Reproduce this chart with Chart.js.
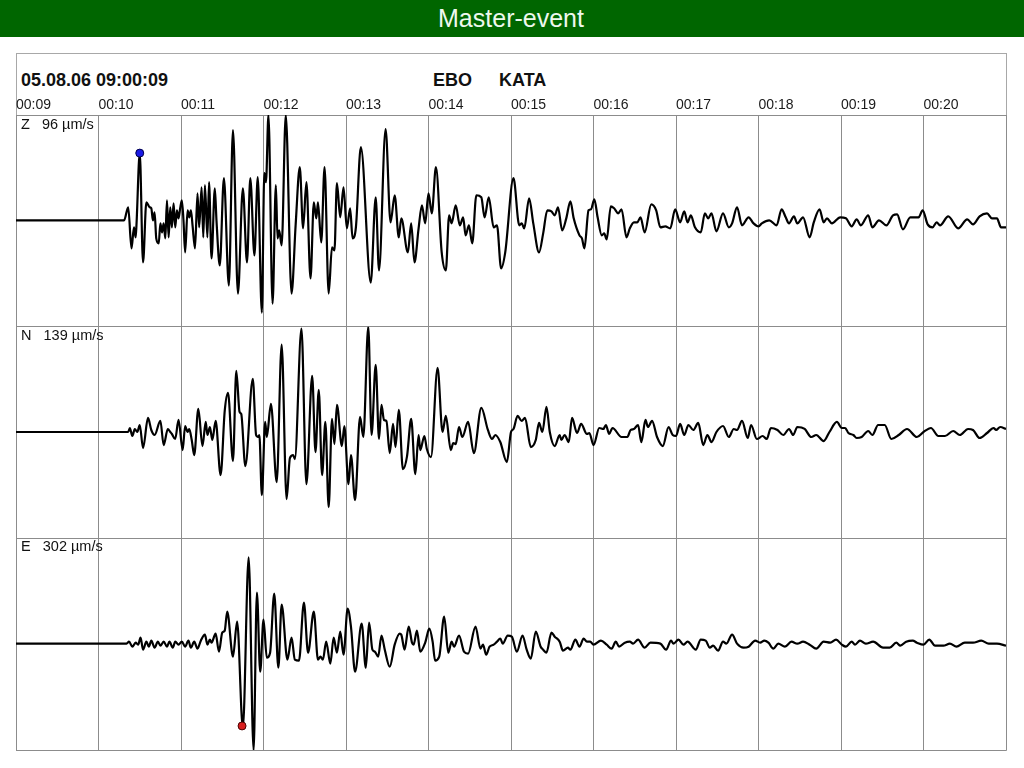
<!DOCTYPE html>
<html>
<head>
<meta charset="utf-8">
<script src="https://cdn.jsdelivr.net/npm/chart.js@4.4.1/dist/chart.umd.min.js"></script>
<style>
  html, body { margin: 0; padding: 0; background: #ffffff; }
  body { width: 1024px; height: 768px; position: relative; overflow: hidden; font-family: "Liberation Sans", Arial, sans-serif; }
  #bar { position: absolute; left: 0; top: 0; width: 1024px; height: 37px; background: rgb(0,102,0); }
  #bar span { position: absolute; left: 0; width: 1022px; top: 4px; text-align: center; color: #eef8ee; font-size: 25px; line-height: 29px; }
  #frame { position: absolute; left: 16px; top: 53px; width: 989px; height: 696px; border: 1px solid #a8a8a8; }
  .hdr { position: absolute; font-weight: bold; font-size: 18px; line-height: 20px; color: #111; }
  .chl { position: absolute; left: 21px; font-size: 14.5px; line-height: 16px; color: #111; white-space: pre; }
  #wrap { position: absolute; left: 15px; top: 84px; width: 992px; height: 667px; }
</style>
</head>
<body>
<div id="bar"><span>Master-event</span></div>
<div id="frame"></div>
<div class="hdr" style="left:21px; top:70px;">05.08.06 09:00:09</div>
<div class="hdr" style="left:433px; top:70px;">EBO</div>
<div class="hdr" style="left:499px; top:70px;">KATA</div>
<div id="wrap"><canvas id="c"></canvas></div>
<div class="chl" id="lZ" style="top:116px;"></div>
<div class="chl" id="lN" style="top:327px;"></div>
<div class="chl" id="lE" style="top:538px;"></div>
<script>
// time axis tick labels (seconds after 09:00:00)
const timeLabels = ['00:09','00:10','00:11','00:12','00:13','00:14','00:15','00:16','00:17','00:18','00:19','00:20'];
const channelNames = ['Z','N','E'];
const channelScales = ['96 µm/s','139 µm/s','302 µm/s'];

// Z component: time (s) and relative amplitude (% of channel full scale)
const zTime = [9.00,10.31,10.36,10.40,10.43,10.45,10.46,10.50,10.54,10.58,10.62,10.64,10.66,10.68,10.70,10.73,10.75,10.77,10.79,10.81,10.83,10.85,10.87,10.89,10.91,10.93,10.95,10.97,10.99,11.01,11.03,11.05,11.08,11.10,11.12,11.14,11.17,11.20,11.22,11.25,11.27,11.29,11.32,11.34,11.37,11.41,11.43,11.47,11.52,11.58,11.63,11.69,11.75,11.80,11.84,11.89,11.93,11.98,12.01,12.03,12.06,12.11,12.15,12.17,12.19,12.22,12.27,12.34,12.39,12.44,12.48,12.52,12.57,12.61,12.64,12.66,12.70,12.74,12.79,12.83,12.86,12.89,12.93,12.97,13.01,13.05,13.08,13.12,13.18,13.30,13.36,13.40,13.48,13.54,13.59,13.64,13.67,13.75,13.79,13.83,13.88,13.92,13.96,14.00,14.04,14.09,14.16,14.21,14.25,14.28,14.33,14.38,14.42,14.45,14.49,14.53,14.58,14.64,14.68,14.73,14.79,14.83,14.88,14.93,15.03,15.10,15.13,15.16,15.22,15.27,15.34,15.39,15.44,15.49,15.53,15.57,15.62,15.67,15.72,15.76,15.83,15.86,15.89,15.94,15.97,16.01,16.05,16.10,16.13,16.16,16.21,16.25,16.30,16.34,16.40,16.44,16.49,16.53,16.57,16.62,16.70,16.76,16.81,16.87,16.93,16.99,17.05,17.10,17.14,17.18,17.23,17.30,17.35,17.39,17.43,17.49,17.57,17.64,17.68,17.74,17.80,17.88,17.94,18.00,18.04,18.13,18.22,18.28,18.33,18.37,18.43,18.47,18.54,18.62,18.67,18.74,18.79,18.83,18.89,18.99,19.06,19.13,19.19,19.24,19.33,19.38,19.46,19.55,19.63,19.68,19.75,19.84,19.94,19.99,20.05,20.11,20.16,20.20,20.30,20.42,20.53,20.60,20.68,20.77,20.83,20.89,20.94,21.00];
const zAmp  = [0,0,13,-28,-7,-17,-5,67,-42,18,13,12,0,8,-18,-23,-3,-12,-3,-18,20,-17,13,-7,17,-7,10,2,12,20,0,-32,10,3,10,-5,-28,27,-7,33,-17,35,-17,38,-38,32,0,-45,42,-65,90,-73,32,-42,42,-35,43,-92,47,38,105,-83,35,-18,-10,-25,105,-73,-4,53,-8,38,-58,18,2,18,-22,53,-73,-27,-30,37,3,33,-8,12,-18,-7,73,-62,23,-50,91,-2,25,-17,2,-32,-3,-42,-8,15,-3,27,7,53,-32,-50,5,-3,15,-5,3,-15,-5,-23,25,23,3,23,-7,-5,-48,-32,42,-5,-3,-8,22,-3,-32,-13,10,9,5,13,-10,2,19,2,-15,-18,-28,10,11,21,3,-15,-13,-19,14,12,7,11,-17,-8,-2,-2,3,-12,16,10,-7,-6,-8,11,-2,9,-2,5,-7,-12,7,2,7,-11,7,-7,-3,13,-5,3,-3,-6,-3,0,-5,11,3,-3,4,-3,3,-17,-2,11,-2,2,-3,3,2,-6,1,-5,5,-7,0,-5,5,6,-9,3,3,10,-4,-7,-2,-5,4,-8,1,-4,4,7,2,2,-7,-7];

// N component
const nTime = [9.00,10.36,10.38,10.41,10.44,10.47,10.50,10.54,10.60,10.64,10.68,10.75,10.79,10.84,10.87,10.89,10.93,10.97,11.02,11.05,11.08,11.10,11.13,11.16,11.21,11.26,11.30,11.32,11.35,11.38,11.42,11.48,11.53,11.57,11.63,11.67,11.71,11.73,11.78,11.87,11.91,11.93,11.95,11.98,12.02,12.04,12.09,12.16,12.22,12.28,12.32,12.36,12.38,12.46,12.52,12.59,12.63,12.67,12.71,12.75,12.79,12.83,12.86,12.89,12.95,12.98,13.03,13.06,13.11,13.17,13.21,13.27,13.31,13.36,13.40,13.43,13.46,13.49,13.53,13.57,13.60,13.64,13.69,13.74,13.79,13.84,13.88,13.90,13.95,13.98,14.03,14.11,14.17,14.21,14.27,14.30,14.33,14.37,14.41,14.48,14.55,14.64,14.72,14.77,14.81,14.87,14.95,15.00,15.03,15.08,15.13,15.17,15.24,15.30,15.34,15.38,15.43,15.47,15.53,15.59,15.61,15.65,15.70,15.74,15.80,15.85,15.92,15.95,16.00,16.07,16.12,16.15,16.19,16.23,16.34,16.41,16.45,16.49,16.54,16.58,16.63,16.66,16.71,16.77,16.84,16.91,16.96,17.00,17.05,17.10,17.15,17.21,17.27,17.33,17.38,17.43,17.49,17.57,17.64,17.70,17.74,17.80,17.87,17.91,17.98,18.05,18.10,18.15,18.23,18.30,18.37,18.42,18.47,18.56,18.64,18.70,18.79,18.86,18.95,19.01,19.05,19.09,19.15,19.19,19.25,19.33,19.38,19.45,19.53,19.61,19.70,19.80,19.92,20.00,20.09,20.18,20.26,20.36,20.44,20.54,20.60,20.68,20.77,20.85,20.88,20.93,21.00];
const nAmp  = [0,0,4,-4,3,0,7,-16,14,2,-3,11,-13,3,0,-2,-7,12,-18,6,0,3,-8,-23,23,-14,10,-3,5,-8,11,-43,21,39,-29,61,20,18,-34,53,-3,-5,-3,-63,10,-5,28,-50,87,-67,-26,-23,-27,103,-52,56,-20,42,-43,10,-75,13,-12,27,-14,6,-52,-23,-68,15,-5,105,-3,67,-7,27,12,11,-21,8,-15,22,-37,-24,13,-42,-3,-18,-4,-17,-25,64,0,16,-18,-11,-12,5,-5,10,-21,24,2,-7,-3,-10,-30,0,3,16,11,14,-15,-8,9,0,25,0,-14,-3,-8,-3,-10,14,-1,8,-2,-1,-13,4,3,7,-2,4,-5,-5,2,3,7,-10,12,5,11,-5,-14,5,-3,-4,8,-3,7,2,9,-13,-3,-10,0,6,-5,3,2,11,-6,7,-7,-4,-7,4,2,-3,3,-3,5,3,-5,-3,-9,0,10,4,4,-1,-3,-6,-5,1,-3,7,7,-7,-3,3,-5,0,4,-4,-4,1,-3,3,2,-6,-1,4,2,5,3];

// E component
const eTime = [9.00,10.34,10.37,10.41,10.45,10.48,10.51,10.54,10.58,10.61,10.64,10.68,10.72,10.75,10.79,10.83,10.86,10.90,10.93,10.97,11.01,11.05,11.09,11.12,11.16,11.20,11.24,11.29,11.32,11.35,11.37,11.42,11.46,11.50,11.53,11.56,11.63,11.68,11.75,11.82,11.88,11.92,11.96,12.00,12.04,12.08,12.13,12.18,12.22,12.29,12.34,12.38,12.43,12.49,12.54,12.61,12.66,12.69,12.72,12.76,12.81,12.85,12.89,12.93,12.97,13.02,13.06,13.11,13.19,13.24,13.28,13.32,13.35,13.39,13.43,13.47,13.53,13.59,13.65,13.67,13.71,13.76,13.80,13.82,13.86,13.90,13.96,14.01,14.05,14.08,14.13,14.19,14.24,14.28,14.31,14.37,14.43,14.48,14.57,14.63,14.66,14.70,14.74,14.79,14.83,14.87,14.90,14.96,15.01,15.07,15.14,15.19,15.24,15.30,15.36,15.39,15.43,15.49,15.53,15.59,15.63,15.69,15.72,15.78,15.83,15.88,15.92,15.96,16.00,16.09,16.16,16.22,16.27,16.31,16.38,16.44,16.48,16.54,16.62,16.69,16.81,16.88,16.94,16.97,17.03,17.09,17.14,17.24,17.30,17.36,17.41,17.45,17.51,17.57,17.61,17.68,17.74,17.82,17.88,17.96,18.02,18.07,18.12,18.18,18.24,18.32,18.40,18.47,18.54,18.62,18.70,18.79,18.87,18.94,19.01,19.06,19.13,19.17,19.23,19.30,19.39,19.51,19.59,19.67,19.72,19.79,19.87,19.92,20.00,20.07,20.14,20.24,20.32,20.40,20.50,20.60,20.70,20.79,20.89,21.00];
const eAmp  = [0,0,2,-3,1,-1,6,-6,2,-3,3,-4,2,-2,2,-3,2,-4,2,-1,2,-3,3,-4,2,-5,3,9,-1,4,1,10,-8,11,13,32,-13,22,-84,86,-106,51,-28,24,-14,-9,50,-24,39,-16,6,-16,-17,41,-9,32,-16,-13,-16,2,-20,6,-9,12,-11,35,17,-28,20,-24,21,-6,-8,-13,8,-6,-23,-1,10,9,-6,17,1,-1,13,-8,1,15,2,-17,-13,27,-9,2,-3,8,-8,-10,17,-5,-1,-11,-3,-1,2,5,0,8,7,-8,8,-6,-15,12,-3,-6,-9,11,7,2,-7,-4,-6,4,-3,5,2,2,-1,3,-1,-5,2,-3,1,2,0,4,-4,1,0,-6,3,0,4,-1,2,-6,4,3,-4,-2,-7,2,0,9,0,-4,-3,3,1,3,1,-5,0,-3,2,0,2,-1,-5,2,1,4,-1,-3,2,-1,3,0,2,-4,-4,1,-2,2,3,1,-1,4,-2,-2,0,-3,1,1,3,0,0,-2];

// phase picks
const pickZ = { time: 10.50, amp: 67 };
const pickE = { time: 11.74, amp: -82 };

['lZ','lN','lE'].forEach((id, i) => {
  document.getElementById(id).textContent = channelNames[i] + '   ' + channelScales[i];
});

const pts = (t, a) => t.map((v, i) => ({ x: v, y: a[i] }));

const traceStyle = {
  borderColor: '#000000', borderWidth: 2.2, pointRadius: 0, pointHoverRadius: 0,
  cubicInterpolationMode: 'monotone', fill: false, order: 2
};

const yAxis = (w) => ({
  type: 'linear', position: 'left', stack: 'channels', stackWeight: 1, weight: w,
  min: -106, max: 105,
  ticks: { display: false },
  grid: { color: '#8c8c8c', lineWidth: 1, drawTicks: false },
  border: { display: false },
  afterBuildTicks: (s) => { s.ticks = [{ value: s.min }, { value: s.max }]; },
  afterFit: (s) => { s.width = 0; }
});

new Chart(document.getElementById('c'), {
  type: 'line',
  data: {
    datasets: [
      Object.assign({ label: channelNames[0], data: pts(zTime, zAmp), yAxisID: 'yZ' }, traceStyle),
      Object.assign({ label: channelNames[1], data: pts(nTime, nAmp), yAxisID: 'yN' }, traceStyle),
      Object.assign({ label: channelNames[2], data: pts(eTime, eAmp), yAxisID: 'yE' }, traceStyle),
      { type: 'scatter', label: 'P', data: [{ x: pickZ.time, y: pickZ.amp }], yAxisID: 'yZ',
        pointRadius: 4, backgroundColor: '#1a1ae6', borderColor: '#00004a', borderWidth: 1, order: 0 },
      { type: 'scatter', label: 'S', data: [{ x: pickE.time, y: pickE.amp }], yAxisID: 'yE',
        pointRadius: 4, backgroundColor: '#d81e1e', borderColor: '#4a0000', borderWidth: 1, order: 0 }
    ]
  },
  options: {
    responsive: true, maintainAspectRatio: false, animation: false,
    layout: { padding: { left: 1, right: 1, top: 0, bottom: 1 }, autoPadding: false },
    plugins: { legend: { display: false }, tooltip: { enabled: false }, title: { display: false } },
    events: [],
    scales: {
      x: {
        type: 'linear', position: 'top', min: 9, max: 21,
        ticks: {
          stepSize: 1, align: 'start', padding: 1, color: '#1a1a1a', maxRotation: 0, autoSkip: false,
          font: { family: '"Liberation Sans", Arial, sans-serif', size: 14 },
          callback: (v) => timeLabels[v - 9] || ''
        },
        grid: { color: '#8c8c8c', lineWidth: 1, drawTicks: false },
        border: { display: true, color: '#8c8c8c' },
        afterFit: (s) => { s.height = 31; }
      },
      yZ: yAxis(3),
      yN: yAxis(2),
      yE: yAxis(1)
    }
  }
});
</script>
</body>
</html>
